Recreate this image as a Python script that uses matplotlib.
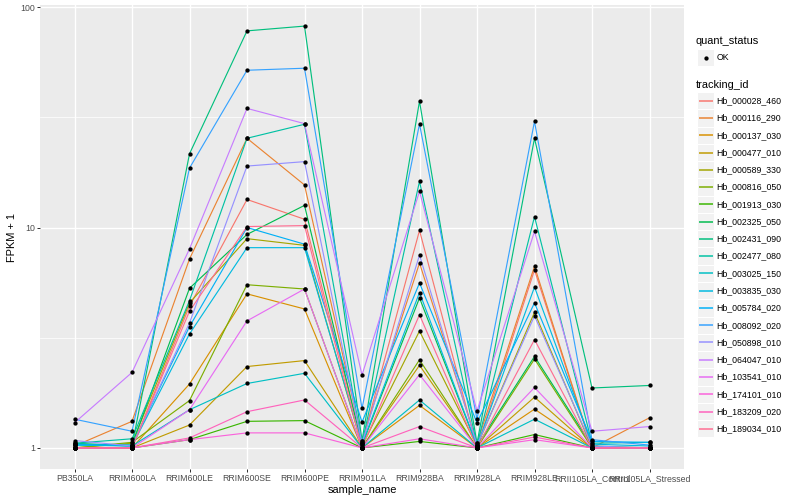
import matplotlib
matplotlib.use("Agg")
import matplotlib.pyplot as plt
from matplotlib.lines import Line2D
from matplotlib.patches import Rectangle
from matplotlib.ticker import FixedLocator, NullFormatter
import numpy as np

plt.rcParams['font.family'] = ['Liberation Sans', 'DejaVu Sans']

samples = ['PB350LA', 'RRIM600LA', 'RRIM600LE', 'RRIM600SE', 'RRIM600PE',
           'RRIM901LA', 'RRIM928BA', 'RRIM928LA', 'RRIM928LE',
           'RRII105LA_Control', 'RRII105LA_Stressed']

tracking_ids = ['Hb_000028_460', 'Hb_000116_290', 'Hb_000137_030', 'Hb_000477_010',
                'Hb_000589_330', 'Hb_000816_050', 'Hb_001913_030', 'Hb_002325_050',
                'Hb_002431_090', 'Hb_002477_080', 'Hb_003025_150', 'Hb_003835_030',
                'Hb_005784_020', 'Hb_008092_020', 'Hb_050898_010', 'Hb_064047_010',
                'Hb_103541_010', 'Hb_174101_010', 'Hb_183209_020', 'Hb_189034_010']

# ggplot hue palette, 20 levels
colors = ['#F8766D', '#EA8331', '#D89000', '#C09B00', '#A3A500', '#7CAE00',
          '#39B600', '#00BB4E', '#00BF7D', '#00C1A3', '#00BFC4', '#00BAE0',
          '#00B0F6', '#35A2FF', '#9590FF', '#C77CFF', '#E76BF3', '#FA62DB',
          '#FF62BC', '#FF6C91']

# FPKM + 1 per sample, one list per gene
hb_000028_460 = [1.00, 1.00, 4.40, 13.4, 10.9, 1.05, 9.70, 1.00, 6.42, 1.00, 1.00]
hb_000116_290 = [1.02, 1.32, 7.20, 25.4, 15.6, 1.08, 6.90, 1.05, 6.67, 1.00, 1.37]
hb_000137_030 = [1.00, 1.00, 1.95, 5.00, 4.27, 1.00, 1.56, 1.00, 1.50, 1.00, 1.00]
hb_000477_010 = [1.00, 1.00, 1.27, 2.34, 2.49, 1.00, 2.37, 1.00, 1.70, 1.00, 1.00]
hb_000589_330 = [1.00, 1.05, 4.55, 8.90, 8.30, 1.02, 3.39, 1.02, 4.12, 1.00, 1.00]
hb_000816_050 = [1.00, 1.06, 1.64, 5.50, 5.26, 1.00, 2.51, 1.00, 2.53, 1.00, 1.00]
hb_001913_030 = [1.00, 1.00, 1.09, 1.32, 1.33, 1.00, 1.07, 1.00, 1.15, 1.00, 1.00]
hb_002325_050 = [1.04, 1.03, 5.30, 9.30, 12.6, 1.03, 4.79, 1.02, 2.60, 1.02, 1.00]
hb_002431_090 = [1.05, 1.02, 21.6, 78.0, 82.0, 1.08, 37.4, 1.05, 25.4, 1.87, 1.92]
hb_002477_080 = [1.05, 1.10, 4.66, 25.4, 29.4, 1.05, 16.2, 1.03, 11.2, 1.05, 1.06]
hb_003025_150 = [1.03, 1.02, 1.49, 1.96, 2.18, 1.00, 1.65, 1.00, 1.35, 1.00, 1.00]
hb_003835_030 = [1.04, 1.02, 3.29, 8.10, 8.10, 1.04, 5.07, 1.02, 5.37, 1.04, 1.02]
hb_005784_020 = [1.03, 1.03, 3.55, 10.0, 8.40, 1.31, 5.60, 1.30, 4.55, 1.07, 1.06]
hb_008092_020 = [1.35, 1.19, 18.6, 51.7, 52.8, 1.51, 29.5, 1.35, 30.3, 1.09, 1.03]
hb_050898_010 = [1.08, 1.02, 3.69, 19.0, 19.9, 1.05, 7.50, 1.03, 3.97, 1.02, 1.00]
hb_064047_010 = [1.30, 2.20, 8.00, 34.7, 29.6, 2.14, 14.6, 1.47, 9.60, 1.19, 1.25]
hb_103541_010 = [1.00, 1.00, 1.49, 3.77, 5.26, 1.00, 2.15, 1.00, 1.88, 1.00, 1.00]
hb_174101_010 = [1.00, 1.00, 1.09, 1.17, 1.17, 1.00, 1.10, 1.00, 1.09, 1.00, 1.00]
hb_183209_020 = [1.00, 1.00, 1.11, 1.46, 1.65, 1.00, 1.25, 1.00, 1.12, 1.00, 1.00]
hb_189034_010 = [1.00, 1.00, 4.17, 10.1, 10.2, 1.00, 4.02, 1.00, 3.10, 1.00, 1.00]

series = [hb_000028_460, hb_000116_290, hb_000137_030, hb_000477_010, hb_000589_330,
          hb_000816_050, hb_001913_030, hb_002325_050, hb_002431_090, hb_002477_080,
          hb_003025_150, hb_003835_030, hb_005784_020, hb_008092_020, hb_050898_010,
          hb_064047_010, hb_103541_010, hb_174101_010, hb_183209_020, hb_189034_010]

DPI = 72
W, H = 800, 500
fig = plt.figure(figsize=(W / DPI, H / DPI), dpi=DPI)
fig.patch.set_facecolor('white')

# panel in pixels: left 40, right 684, top 5, bottom 469
ax = fig.add_axes([40 / W, 1 - 469 / H, (684 - 40) / W, (469 - 5) / H])
ax.set_facecolor('#EBEBEB')
for s in ax.spines.values():
    s.set_visible(False)

x = np.arange(len(samples))
for vals, col in zip(series, colors):
    ax.plot(x, vals, color=col, lw=1.15, zorder=3)
for vals in series:
    ax.plot(x, vals, 'o', color='black', ms=4.3, mec='black', mew=0, zorder=4)

ax.set_yscale('log')
all_vals = np.log10(np.concatenate([np.array(v) for v in series]))
lo, hi = all_vals.min(), all_vals.max()
pad = 0.05 * (hi - lo)
ax.set_ylim(10 ** (lo - pad), 10 ** (hi + pad))
ax.set_xlim(-0.6, len(samples) - 1 + 0.6)

ax.yaxis.set_major_locator(FixedLocator([1, 10, 100]))
ax.set_yticklabels(['1', '10', '100'])
ax.yaxis.set_minor_locator(FixedLocator([10 ** 0.5, 10 ** 1.5]))
ax.yaxis.set_minor_formatter(NullFormatter())
ax.set_xticks(x)
ax.set_xticklabels(samples)

ax.grid(which='major', color='white', lw=1.4, zorder=1)
ax.grid(which='minor', axis='y', color='white', lw=0.7, zorder=1)
ax.set_axisbelow(True)
ax.tick_params(which='major', length=2.75, width=1.0, color='#333333',
               labelsize=8.8, labelcolor='#4D4D4D', pad=2.2)
ax.tick_params(which='minor', length=0)

ax.set_xlabel('sample_name', fontsize=11, color='black', labelpad=2)
ax.set_ylabel('FPKM + 1', fontsize=11, color='black', labelpad=3)

# legend drawn ggplot-style at the right
def fx(px):
    return px / W

def fy(py):
    return 1 - py / H

key_x0, key_w, key_h = 697, 17.3, 17.3
fig.text(fx(696), fy(40.5), 'quant_status', fontsize=11, va='center', ha='left')
fig.add_artist(Rectangle((fx(key_x0), fy(49 + key_h)), key_w / W, key_h / H,
                         transform=fig.transFigure, facecolor='#F2F2F2',
                         edgecolor='white', lw=1, zorder=1))
fig.add_artist(Line2D([fx(key_x0 + key_w / 2)], [fy(57.5)], marker='o', color='black',
                      ms=4.3, mew=0, transform=fig.transFigure, zorder=5))
fig.text(fx(716.5), fy(57.5), 'OK', fontsize=8.8, va='center', ha='left')

fig.text(fx(696), fy(84.5), 'tracking_id', fontsize=11, va='center', ha='left')
for i, (name, col) in enumerate(zip(tracking_ids, colors)):
    cy = 100.7 + i * 17.27
    fig.add_artist(Rectangle((fx(key_x0), fy(cy + key_h / 2)), key_w / W, key_h / H,
                             transform=fig.transFigure, facecolor='#F2F2F2',
                             edgecolor='white', lw=1, zorder=1))
    fig.add_artist(Line2D([fx(key_x0 + 1.7), fx(key_x0 + key_w - 1.7)], [fy(cy), fy(cy)],
                          color=col, lw=1.5, solid_capstyle='butt',
                          transform=fig.transFigure, zorder=5))
    fig.text(fx(716.5), fy(cy), name, fontsize=8.8, va='center', ha='left')

fig.savefig('out.png', dpi=DPI)
